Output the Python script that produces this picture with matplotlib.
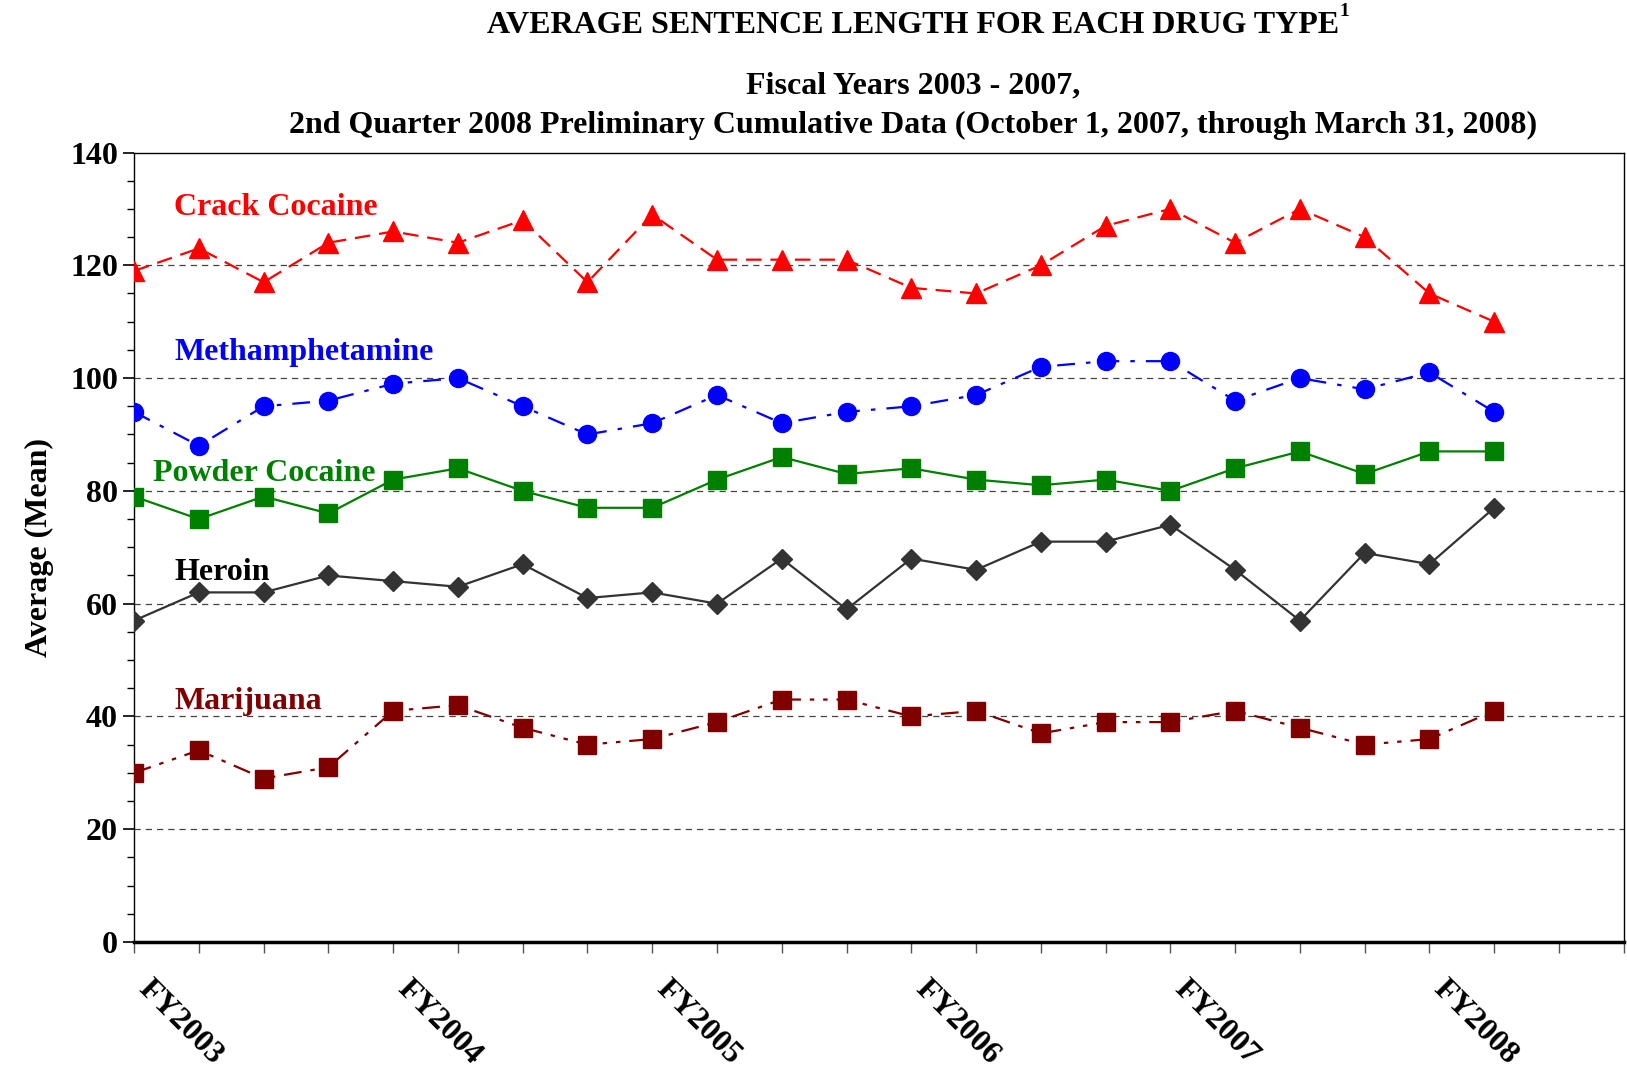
import numpy as np
import matplotlib
matplotlib.use("Agg")
import matplotlib.pyplot as plt
from matplotlib.transforms import ScaledTranslation

plt.rcParams['font.family'] = ['Liberation Serif', 'DejaVu Serif']
plt.rcParams['font.weight'] = 'bold'

# Trimestres FY2003 Q1 ... FY2008 Q2
trimestres = list(range(22))
etiquetas_x = ["FY2003", "FY2004", "FY2005", "FY2006", "FY2007", "FY2008"]

crack = [119, 123, 117, 124, 126, 124, 128, 117, 129, 121, 121,
         121, 116, 115, 120, 127, 130, 124, 130, 125, 115, 110]
meta = [94, 88, 95, 96, 99, 100, 95, 90, 92, 97, 92,
        94, 95, 97, 102, 103, 103, 96, 100, 98, 101, 94]
polvo = [79, 75, 79, 76, 82, 84, 80, 77, 77, 82, 86,
         83, 84, 82, 81, 82, 80, 84, 87, 83, 87, 87]
heroina = [57, 62, 62, 65, 64, 63, 67, 61, 62, 60, 68,
           59, 68, 66, 71, 71, 74, 66, 57, 69, 67, 77]
marihuana = [30, 34, 29, 31, 41, 42, 38, 35, 36, 39, 43,
             43, 40, 41, 37, 39, 39, 41, 38, 35, 36, 41]

fig = plt.figure(figsize=(16.27, 10.71), dpi=100)
ax = fig.add_axes([0.0824, 0.1204, 0.9156, 0.7372])

x = np.array(trimestres)
ax.plot(x, crack, color='red', linestyle=(0, (7, 4)), linewidth=1.6,
        marker='^', markersize=14, zorder=3)
ax.plot(x, meta, color='blue', linestyle=(0, (8, 5, 2, 5)), linewidth=1.6,
        marker='o', markersize=13, zorder=3)
ax.plot(x, polvo, color='green', linestyle='-', linewidth=1.6,
        marker='s', markersize=12.5, zorder=3)
ax.plot(x, heroina, color='#333333', linestyle='-', linewidth=1.6,
        marker='D', markersize=10.5, zorder=3)
ax.plot(x, marihuana, color='#800000', linestyle=(0, (8, 4, 2, 4, 2, 4)),
        linewidth=1.6, marker='s', markersize=12.5, zorder=3)

# Etiquetas de las series
estilo = dict(fontsize=23, fontweight='bold', va='center', ha='left')
ax.text(0.62, 130.2, "Crack Cocaine", color='red', **estilo)
ax.text(0.62, 104.5, "Methamphetamine", color='blue', **estilo)
ax.text(0.29, 83.0, "Powder Cocaine", color='green', **estilo)
ax.text(0.62, 65.5, "Heroin", color='black', **estilo)
ax.text(0.62, 42.6, "Marijuana", color='#800000', **estilo)

# Ejes
ax.set_xlim(0, 23)
ax.set_ylim(0, 140)
ax.set_xticks(np.arange(0, 24))
ax.set_xticklabels([etiquetas_x[i // 4] if i % 4 == 0 and i // 4 < len(etiquetas_x) else ""
                    for i in range(24)],
                   rotation=-45, ha='left', va='top', rotation_mode='anchor',
                   fontsize=23, fontweight='bold')
ax.tick_params(axis='x', length=8, width=1, pad=15, color='#555555')
desplazo = ScaledTranslation(0.19, 0, fig.dpi_scale_trans)
for lbl in ax.get_xticklabels():
    lbl.set_transform(lbl.get_transform() + desplazo)
ax.set_yticks(np.arange(0, 141, 20))
ax.set_yticks(np.arange(0, 141, 5), minor=True)
ax.tick_params(axis='y', which='major', length=8, width=1.2, labelsize=23)
ax.tick_params(axis='y', which='minor', length=5, width=1)
for lbl in ax.get_yticklabels():
    lbl.set_fontweight('bold')

for val in range(20, 140, 20):
    ax.axhline(val, color='#444444', linestyle=(0, (5, 4)), linewidth=0.9, zorder=1)

ax.spines['bottom'].set_linewidth(2.5)
ax.spines['left'].set_linewidth(1)
ax.spines['top'].set_linewidth(1)
ax.spines['right'].set_linewidth(1)

ax.set_ylabel("Average (Mean)", fontsize=23, fontweight='bold', labelpad=12)

# Titulos
fig.text(0.561, 0.976, "AVERAGE SENTENCE LENGTH FOR EACH DRUG TYPE",
         ha='center', va='center', fontsize=23, fontweight='bold')
fig.text(0.8235, 0.989, "1", ha='left', va='center', fontsize=14, fontweight='bold')
fig.text(0.561, 0.920, "Fiscal Years 2003 - 2007,",
         ha='center', va='center', fontsize=23, fontweight='bold')
fig.text(0.561, 0.883,
         "2nd Quarter 2008 Preliminary Cumulative Data (October 1, 2007, through March 31, 2008)",
         ha='center', va='center', fontsize=23, fontweight='bold')

fig.savefig("out.png", dpi=100)
